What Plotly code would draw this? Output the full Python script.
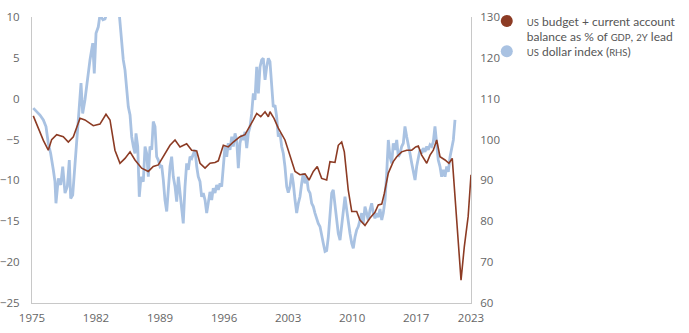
import plotly.graph_objects as go

# US budget + current account balance as % of GDP, 2y lead (left axis)
balance_year = [
    1975.14, 1976.24, 1976.78, 1977.15, 1977.70, 1978.42, 1978.97, 1979.52, 1980.25, 1980.79,
    1981.70, 1982.43, 1983.09, 1983.53, 1984.07, 1984.62, 1985.17, 1985.72, 1986.26, 1986.99,
    1987.72, 1988.26, 1988.81, 1989.54, 1990.09, 1990.64, 1991.18, 1991.91, 1992.46, 1993.01,
    1993.37, 1993.92, 1994.46, 1995.01, 1995.37, 1995.92, 1996.46, 1997.01, 1997.74, 1998.29,
    1998.84, 1999.20, 1999.57, 2000.01, 2000.48, 2000.84, 2001.02, 2001.46, 2001.93, 2002.48,
    2002.66, 2003.02, 2003.21, 2003.76, 2004.30, 2004.85, 2005.29, 2005.76, 2006.19, 2006.67,
    2007.22, 2007.58, 2008.13, 2008.49, 2008.86, 2009.15, 2009.58, 2009.96, 2010.50, 2010.86,
    2011.41, 2011.96, 2012.50, 2012.86, 2013.24, 2013.52, 2013.96, 2014.50, 2014.88, 2015.42,
    2015.97, 2016.52, 2016.95, 2017.24, 2017.61, 2018.16, 2018.52, 2018.88, 2019.25, 2019.61,
    2020.16, 2020.59, 2020.95, 2021.44, 2021.91, 2022.27, 2022.69, 2023.00,
]
balance_pct = [
    -2.1, -5.1, -6.3, -5.0, -4.4, -4.65, -5.3, -4.65, -2.4, -2.6,
    -3.3, -3.1, -1.9, -2.6, -6.3, -7.9, -7.3, -6.5, -7.5, -8.5,
    -8.9, -8.3, -8.1, -6.7, -5.7, -5.05, -5.9, -5.5, -6.3, -6.4,
    -7.9, -8.5, -7.9, -7.8, -7.6, -5.7, -5.9, -5.3, -4.65, -4.4,
    -3.4, -2.6, -1.8, -2.2, -1.6, -2.2, -1.6, -2.4, -3.6, -4.65,
    -5.05, -6.3, -6.9, -8.9, -9.3, -9.2, -9.95, -8.9, -8.3, -9.75,
    -9.95, -7.7, -7.8, -5.7, -5.3, -6.5, -11.2, -13.8, -13.8, -14.85,
    -15.5, -14.6, -13.9, -13.0, -12.9, -11.6, -9.1, -7.7, -7.1, -6.5,
    -6.3, -6.3, -5.9, -5.8, -6.9, -7.9, -6.9, -6.3, -5.05, -7.1,
    -7.5, -7.9, -7.3, -15.2, -22.2, -18.1, -14.4, -9.3,
]

# US dollar index (right axis)
dollar_year = [
    1975.14, 1975.51, 1975.87, 1976.24, 1976.53, 1976.78, 1977.04, 1977.33, 1977.51, 1977.62,
    1977.88, 1978.14, 1978.36, 1978.61, 1978.86, 1979.08, 1979.23, 1979.45, 1979.70, 1979.95,
    1980.17, 1980.36, 1980.54, 1980.79, 1981.05, 1981.34, 1981.64, 1981.81, 1982.00, 1982.25,
    1982.43, 1982.76, 1982.98, 1983.20, 1983.53, 1983.86, 1984.18, 1984.46, 1984.62, 1984.81,
    1984.98, 1985.17, 1985.35, 1985.53, 1985.72, 1985.90, 1986.08, 1986.26, 1986.37, 1986.56,
    1986.73, 1986.92, 1987.17, 1987.36, 1987.54, 1987.72, 1987.90, 1988.09, 1988.26, 1988.45,
    1988.63, 1988.81, 1989.00, 1989.18, 1989.36, 1989.54, 1989.73, 1989.90, 1990.09, 1990.27,
    1990.45, 1990.64, 1990.82, 1991.00, 1991.18, 1991.37, 1991.54, 1991.73, 1991.91, 1992.09,
    1992.28, 1992.46, 1992.64, 1992.82, 1993.01, 1993.18, 1993.37, 1993.55, 1993.73, 1993.92,
    1994.10, 1994.28, 1994.46, 1994.65, 1994.82, 1995.01, 1995.19, 1995.37, 1995.56, 1995.74,
    1995.92, 1996.10, 1996.29, 1996.46, 1996.65, 1996.84, 1997.01, 1997.20, 1997.38, 1997.56,
    1997.74, 1997.93, 1998.10, 1998.29, 1998.48, 1998.65, 1998.84, 1999.02, 1999.20, 1999.38,
    1999.57, 1999.75, 1999.93, 2000.11, 2000.29, 2000.48, 2000.66, 2000.84, 2001.02, 2001.21,
    2001.38, 2001.57, 2001.75, 2001.93, 2002.12, 2002.30, 2002.48, 2002.66, 2002.85, 2003.02,
    2003.21, 2003.40, 2003.57, 2003.76, 2003.94, 2004.12, 2004.30, 2004.49, 2004.66, 2004.85,
    2005.03, 2005.21, 2005.40, 2005.58, 2005.76, 2005.94, 2006.13, 2006.30, 2006.49, 2006.67,
    2006.85, 2007.04, 2007.22, 2007.40, 2007.58, 2007.77, 2007.94, 2008.13, 2008.31, 2008.49,
    2008.68, 2008.86, 2009.04, 2009.22, 2009.41, 2009.58, 2009.77, 2009.96, 2010.13, 2010.32,
    2010.50, 2010.68, 2010.86, 2011.05, 2011.22, 2011.41, 2011.59, 2011.77, 2011.96, 2012.14,
    2012.32, 2012.50, 2012.69, 2012.86, 2013.05, 2013.24, 2013.41, 2013.60, 2013.78, 2013.96,
    2014.14, 2014.33, 2014.50, 2014.69, 2014.88, 2015.05, 2015.24, 2015.42, 2015.60, 2015.78,
    2015.97, 2016.14, 2016.33, 2016.52, 2016.69, 2016.88, 2017.06, 2017.24, 2017.42, 2017.61,
    2017.78, 2017.97, 2018.16, 2018.33, 2018.52, 2018.70, 2018.88, 2019.06, 2019.25, 2019.42,
    2019.61, 2019.79, 2019.97, 2020.16, 2020.34, 2020.52, 2020.71, 2020.89, 2021.07, 2021.25,
]
dollar_index = [
    107.7, 106.8, 106.0, 104.8, 103.2, 99.1, 96.6, 92.6, 89.7, 84.4,
    90.5, 88.9, 93.4, 86.9, 88.5, 95.0, 85.6, 86.4, 93.4, 99.9,
    108.0, 113.8, 106.4, 109.7, 114.6, 119.5, 123.6, 116.2, 126.0, 127.6,
    130.5, 129.3, 129.5, 131.0, 138.0, 145.0, 140.0, 133.0, 130.0, 124.4,
    119.5, 117.0, 112.9, 108.0, 106.0, 100.7, 98.3, 96.6, 101.5, 98.3,
    86.0, 90.9, 89.7, 98.3, 96.6, 90.9, 98.3, 97.5, 104.4, 103.2,
    95.8, 95.0, 93.4, 93.7, 90.1, 85.2, 82.4, 86.9, 93.4, 95.8,
    90.9, 88.5, 84.8, 90.9, 86.9, 82.0, 79.5, 88.5, 94.2, 92.6,
    95.8, 95.4, 96.6, 97.5, 93.4, 90.9, 89.7, 86.0, 86.9, 85.2,
    82.0, 85.2, 87.2, 85.2, 88.1, 86.9, 88.9, 87.7, 89.3, 88.5,
    94.2, 98.3, 95.8, 99.1, 97.5, 100.7, 98.3, 101.5, 99.9, 93.0,
    99.1, 101.1, 99.9, 101.9, 97.9, 101.5, 103.2, 106.4, 111.3, 109.7,
    117.8, 111.3, 117.8, 119.5, 119.9, 114.6, 117.8, 119.9, 119.1, 112.9,
    108.0, 108.4, 105.6, 100.7, 101.5, 98.3, 96.6, 93.4, 88.5, 87.0,
    88.5, 91.7, 89.3, 85.2, 82.0, 84.4, 86.0, 89.3, 91.7, 89.3,
    90.9, 87.7, 86.9, 84.4, 83.6, 82.0, 80.3, 79.5, 78.7, 77.0,
    74.6, 72.6, 72.8, 76.2, 81.1, 86.9, 87.7, 83.6, 80.3, 77.0,
    75.4, 78.7, 82.0, 86.0, 82.8, 79.5, 77.0, 74.6, 73.4, 76.2,
    77.9, 78.7, 80.3, 82.0, 79.5, 83.6, 82.0, 80.3, 82.8, 84.4,
    82.0, 80.7, 82.0, 81.0, 83.0, 80.3, 82.0, 85.2, 91.7, 99.9,
    95.8, 94.2, 99.1, 97.5, 99.9, 95.8, 96.6, 98.3, 99.1, 103.2,
    100.7, 99.1, 96.6, 94.2, 92.6, 90.1, 93.4, 95.8, 97.5, 96.6,
    97.9, 97.0, 98.3, 97.5, 98.7, 98.3, 99.5, 103.2, 98.3, 95.0,
    93.4, 90.9, 92.6, 90.9, 93.4, 92.1, 95.8, 97.5, 99.9, 104.8,
]

year_ticks = [1975, 1982, 1989, 1996, 2003, 2010, 2017, 2023]
left_ticks = [10, 5, 0, -5, -10, -15, -20, -25]
right_ticks = [130, 120, 110, 100, 90, 80, 70, 60]

BROWN = "#8C3B24"
BLUE = "#A9C2E2"
AXIS = "#C8C8C8"
TICK_FONT = dict(family="Open Sans, sans-serif", size=11.5, color="#666666")
LEGEND_FONT = dict(family="Lato, sans-serif", size=12, color="#555555")
SC = "<span style='font-size:9.5px'>{}</span>"

legend_balance = (SC.format("US") + " budget + current account<br>balance as % of "
                  + SC.format("GDP") + ", " + SC.format("2Y") + " lead")
legend_dollar = SC.format("US") + " dollar index (" + SC.format("RHS") + ")"

fig = go.Figure()

# dollar index on the base (right-hand) axis so the balance line sits above it
fig.add_trace(go.Scatter(
    x=dollar_year, y=dollar_index, mode="lines", yaxis="y",
    line=dict(color=BLUE, width=2.8), showlegend=False, hoverinfo="skip",
))
fig.add_trace(go.Scatter(
    x=balance_year, y=balance_pct, mode="lines", yaxis="y2",
    line=dict(color=BROWN, width=1.6), showlegend=False, hoverinfo="skip",
))

# legend entries shown as round swatches, one legend box each
fig.add_trace(go.Scatter(
    x=[None], y=[None], mode="markers", yaxis="y2", name=legend_balance,
    marker=dict(color=BROWN, size=12), legend="legend",
))
fig.add_trace(go.Scatter(
    x=[None], y=[None], mode="markers", yaxis="y", name=legend_dollar,
    marker=dict(color=BLUE, size=12), legend="legend2",
))

legend_common = dict(
    xref="container", yref="container", xanchor="left", yanchor="top",
    valign="top", font=LEGEND_FONT, itemwidth=30, bgcolor="rgba(0,0,0,0)",
)

fig.update_layout(
    width=689, height=333,
    margin=dict(l=32, r=218, t=17, b=30, autoexpand=False),
    paper_bgcolor="white", plot_bgcolor="white",
    xaxis=dict(
        range=[1975, 2023], tickvals=year_ticks, ticktext=[str(v) for v in year_ticks],
        showgrid=False, zeroline=False, showline=True, linecolor=AXIS, linewidth=1,
        ticks="", tickfont=TICK_FONT, ticklabelstandoff=4,
    ),
    yaxis=dict(
        side="right", range=[60, 130], tickvals=right_ticks,
        showgrid=False, zeroline=False, showline=True, linecolor=AXIS, linewidth=1,
        ticks="", tickfont=TICK_FONT, ticklabelstandoff=6,
    ),
    yaxis2=dict(
        side="left", overlaying="y", range=[-25, 10], tickvals=left_ticks,
        showgrid=False, zeroline=False, showline=True, linecolor=AXIS, linewidth=1,
        ticks="", tickfont=TICK_FONT, ticklabelstandoff=9,
    ),
    legend=dict(x=0.7065, y=0.980, **legend_common),
    legend2=dict(x=0.7065, y=0.889, **legend_common),
)

fig.write_html("out.html")
